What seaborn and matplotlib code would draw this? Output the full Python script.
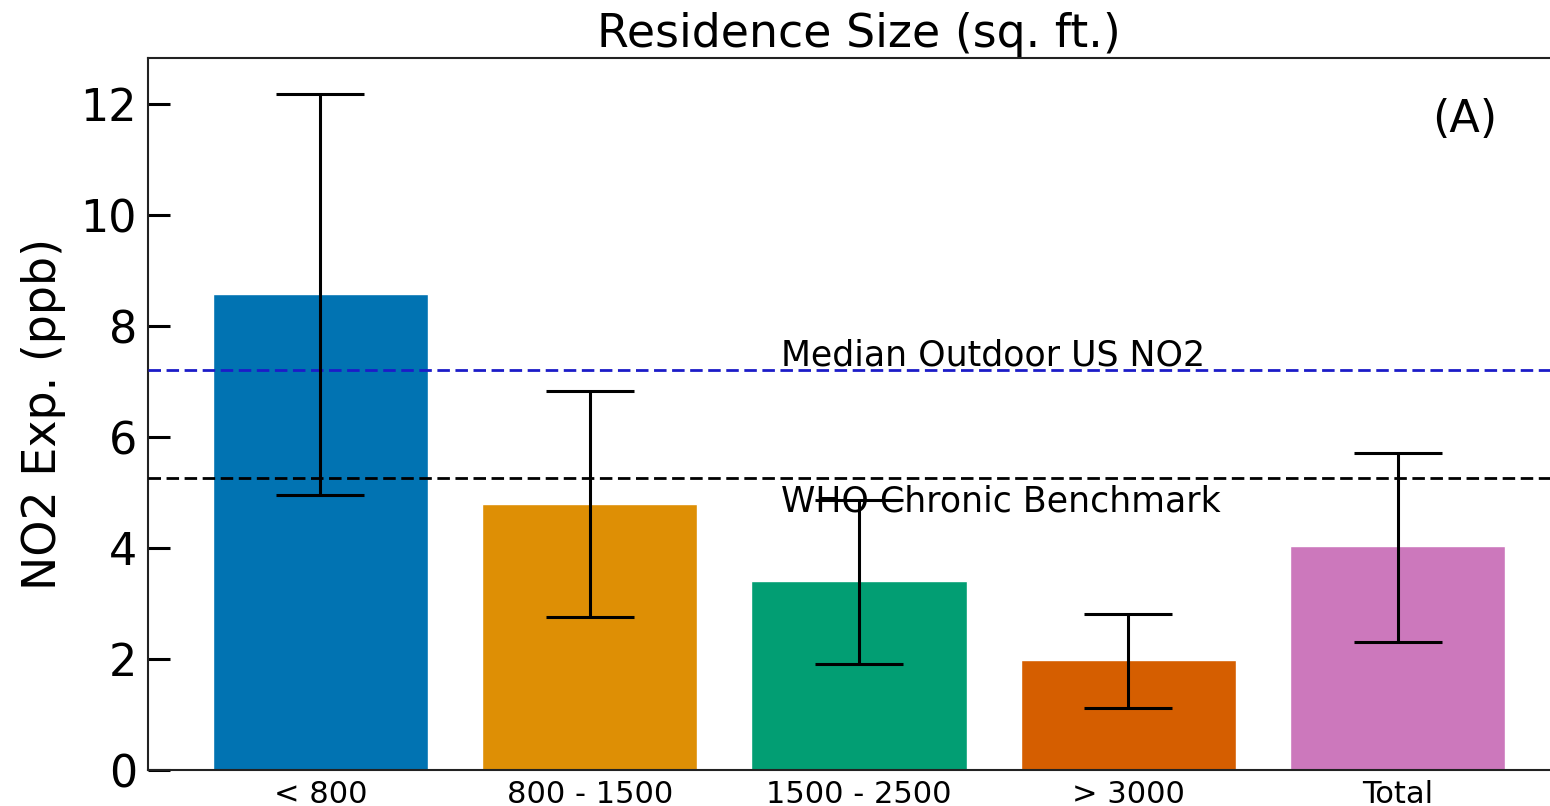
import matplotlib
matplotlib.use("Agg")
import matplotlib.pyplot as plt
import seaborn as sns
import pandas as pd
import numpy as np

# ---- data ----
categories = ["< 800", "800 - 1500", "1500 - 2500", "> 3000", "Total"]
means = [8.58, 4.80, 3.40, 1.98, 4.03]
err_upper = [12.18, 6.83, 4.86, 2.81, 5.72]
err_lower = [4.96, 2.75, 1.91, 1.12, 2.30]
median_outdoor = 7.21
who_benchmark = 5.27
yticks = [0, 2, 4, 6, 8, 10, 12]

sns.set_style("white")
plt.rcParams['font.family'] = ['DejaVu Sans']
plt.rcParams['text.color'] = 'black'
plt.rcParams['axes.labelcolor'] = 'black'
plt.rcParams['xtick.color'] = 'black'
plt.rcParams['ytick.color'] = 'black'

df = pd.DataFrame({"size": categories, "no2": means})

fig = plt.figure(figsize=(15.5, 8.06), dpi=100)
ax = fig.add_axes([148 / 1550, 36 / 806, 1422 / 1550, 712 / 806])

sns.barplot(data=df, x="size", y="no2", hue="size", palette="colorblind",
            saturation=1, width=0.8, errorbar=None, legend=False, ax=ax)

xpos = np.arange(len(categories))
m = np.array(means)
yerr = np.vstack([m - np.array(err_lower), np.array(err_upper) - m])
ax.errorbar(xpos, m, yerr=yerr, fmt="none", ecolor="black", elinewidth=2.2,
            capsize=32, capthick=2.2, zorder=4)

ax.axhline(median_outdoor, color="#1c1cc8", linestyle=(0, (4.5, 2)), linewidth=2, zorder=3)
ax.axhline(who_benchmark, color="black", linestyle=(0, (4.5, 2)), linewidth=2, zorder=3)
ax.text(1.71, 7.28, "Median Outdoor US NO2", fontsize=25, va="baseline", ha="left", color="black")
ax.text(1.71, 4.66, "WHO Chronic Benchmark", fontsize=25, va="baseline", ha="left", color="black")
ax.text(0.926, 0.913, "(A)", fontsize=32, transform=ax.transAxes, ha="center", va="center", color="black")

ax.set_xlim(-0.64, 4.64)
ax.set_ylim(0, 12.83)
ax.set_yticks(yticks)
ax.set_yticklabels([str(t) for t in yticks])
ax.tick_params(axis="y", direction="in", length=16, width=2.2, labelsize=32, pad=8, left=True,
               colors="black")
ax.tick_params(axis="x", length=0, labelsize=22, pad=7, colors="black")
ax.set_xlabel("")
ax.set_ylabel("NO2 Exp. (ppb)", fontsize=33, labelpad=10, color="black")
ax.set_title("Residence Size (sq. ft.)", fontsize=33, pad=8, color="black")
for sp in ax.spines.values():
    sp.set_visible(True)
    sp.set_linewidth(1.5)
    sp.set_color("#222222")

fig.savefig("out.png", dpi=100)
